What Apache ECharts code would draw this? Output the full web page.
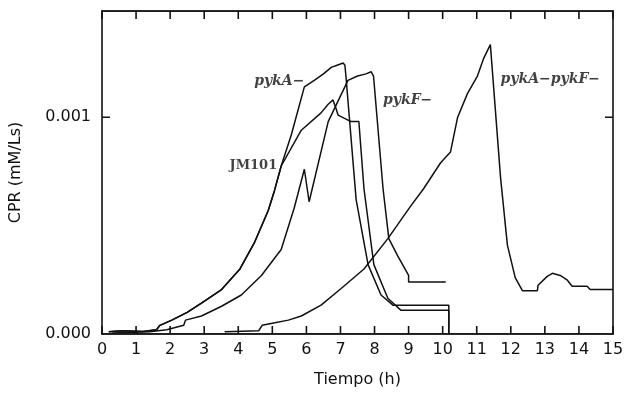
<!DOCTYPE html>
<html>
<head>
<meta charset="utf-8">
<style>
  html, body { margin: 0; padding: 0; background: #fff; }
  #chart { width: 627px; height: 393px; }
</style>
<script src="https://cdn.jsdelivr.net/npm/echarts@6/dist/echarts.min.js"></script>
</head>
<body>
<div id="chart"></div>
<script>
// y values are in units of 0.001 mM/Ls, x in hours
const xTicks = [0, 1, 2, 3, 4, 5, 6, 7, 8, 9, 10, 11, 12, 13, 14, 15]
const yTicks = [0, 1]
const yMax = 1.49

// pykA- and JM101 run together until ~5.3 h
const sharedStart = [
  [0.2, 0.01], [0.6, 0.015], [1.2, 0.012], [1.6, 0.02], [1.7, 0.04],
  [2.05, 0.064], [2.5, 0.1], [2.92, 0.142], [3.51, 0.205], [4.05, 0.3],
  [4.47, 0.42], [4.88, 0.57], [5.06, 0.66], [5.26, 0.775]
]

const pykA = [
  [5.56, 0.92], [5.94, 1.14], [6.23, 1.17], [6.5, 1.2], [6.73, 1.23],
  [6.9, 1.24], [7.08, 1.25], [7.13, 1.24], [7.16, 1.19], [7.46, 0.62],
  [7.81, 0.32], [8.19, 0.18], [8.54, 0.133], [10.18, 0.133], [10.18, 0]
]

const jm101 = [
  [5.85, 0.94], [6.43, 1.02], [6.64, 1.06], [6.78, 1.08], [6.87, 1.04],
  [6.93, 1.01], [7.31, 0.98], [7.54, 0.98], [7.69, 0.67], [7.98, 0.32],
  [8.39, 0.165], [8.77, 0.11], [10.18, 0.11], [10.18, 0]
]

const pykF = [
  [0.3, 0.005], [1.4, 0.01], [1.9, 0.02], [2.4, 0.04], [2.45, 0.064],
  [2.92, 0.083], [3.51, 0.128], [4.09, 0.18], [4.68, 0.27], [5.26, 0.39],
  [5.64, 0.58], [5.79, 0.67], [5.94, 0.76], [6.08, 0.61], [6.64, 0.98],
  [7.22, 1.17], [7.5, 1.19], [7.75, 1.2], [7.9, 1.21], [7.97, 1.19],
  [8.25, 0.67], [8.42, 0.44], [8.68, 0.36], [9.0, 0.27], [9.0, 0.24],
  [10.09, 0.24]
]

const pykApykF = [
  [3.6, 0.01], [4.6, 0.015], [4.7, 0.04], [5.0, 0.05], [5.47, 0.064],
  [5.85, 0.083], [6.43, 0.133], [7.02, 0.21], [7.69, 0.3], [8.39, 0.44],
  [9.06, 0.59], [9.44, 0.67], [9.94, 0.79], [10.23, 0.84], [10.44, 1.0],
  [10.73, 1.11], [11.02, 1.19], [11.2, 1.27], [11.4, 1.335], [11.7, 0.72],
  [11.9, 0.41], [12.13, 0.26], [12.34, 0.2], [12.78, 0.2], [12.8, 0.225],
  [13.07, 0.266], [13.22, 0.28], [13.45, 0.27], [13.65, 0.25], [13.8, 0.22],
  [14.24, 0.22], [14.33, 0.205], [15.0, 0.205]
]

// curve labels: name, anchor x, anchor y
const curveLabels = [
  ['pykA\u2212', 5.94, 1.165],
  ['JM101', 5.26, 0.775],
  ['pykF\u2212', 8.25, 1.08],
  ['pykA\u2212pykF\u2212', 11.7, 1.174]
]

const ink = '#111'
const xMin = xTicks[0]
const xMax = xTicks[xTicks.length - 1]
const grid = { left: 100, right: 14, top: 11, bottom: 57 }
const chartW = 627
const chartH = 393

// inward tick length in px, converted to each axis's units
const tickPx = 8
const tickX = tickPx * (xMax - xMin) / (chartW - grid.left - grid.right)
const tickY = tickPx * yMax / (chartH - grid.top - grid.bottom)

const chart = echarts.init(document.getElementById('chart'))

const frameAxis = {
  type: 'value',
  axisLine: { show: true, onZero: false, lineStyle: { color: ink, width: 1.6 } },
  axisTick: { show: false },
  splitLine: { show: false }
}

const lineSeries = (name, data, width = 1.5) => ({
  name,
  type: 'line',
  data,
  showSymbol: false,
  silent: true,
  lineStyle: { color: ink, width },
  z: 3
})

// x ticks as one zigzag running along each horizontal frame edge
const zigzag = (base, dir) =>
  xTicks.flatMap(v => [[v, base], [v, base + dir * tickY], [v, base]])

const tickLines = [
  lineSeries('', zigzag(0, 1), 1.6),
  lineSeries('', zigzag(yMax, -1), 1.6),
  ...yTicks.slice(1).map(v => lineSeries('', [[xMin, v], [xMin + tickX, v]], 1.6)),
  ...yTicks.slice(1).map(v => lineSeries('', [[xMax, v], [xMax - tickX, v]], 1.6))
]

chart.setOption({
  backgroundColor: '#fff',
  animation: false,
  grid,
  xAxis: [
    {
      ...frameAxis,
      min: xMin,
      max: xMax,
      interval: 1,
      position: 'bottom',
      name: 'Tiempo (h)',
      nameLocation: 'middle',
      nameGap: 38,
      nameTextStyle: { fontFamily: 'DejaVu Sans', fontSize: 16, color: ink },
      axisLabel: { fontFamily: 'DejaVu Sans', fontSize: 16, color: ink, margin: 8 }
    },
    {
      ...frameAxis,
      min: xMin,
      max: xMax,
      interval: 1,
      position: 'top',
      axisLabel: { show: false }
    }
  ],
  yAxis: [
    {
      ...frameAxis,
      min: 0,
      max: yMax,
      interval: 1,
      position: 'left',
      name: 'CPR (mM/Ls)',
      nameLocation: 'middle',
      nameGap: 78,
      nameTextStyle: { fontFamily: 'DejaVu Sans', fontSize: 16, color: ink },
      axisLabel: {
        fontFamily: 'DejaVu Sans', fontSize: 16, color: ink, margin: 11,
        showMaxLabel: false,
        formatter: v => yTicks.includes(v) ? (v / 1000).toFixed(3) : ''
      }
    },
    {
      ...frameAxis,
      min: 0,
      max: yMax,
      interval: 1,
      position: 'right',
      axisLabel: { show: false }
    }
  ],
  series: [
    lineSeries('pykA-', sharedStart.concat(pykA)),
    lineSeries('JM101', sharedStart.concat(jm101)),
    lineSeries('pykF-', pykF),
    lineSeries('pykA-pykF-', pykApykF),
    ...tickLines,
    {
      type: 'scatter',
      symbolSize: 0,
      silent: true,
      z: 4,
      data: curveLabels.map(([name, x, y], i) => ({
        name,
        value: [x, y],
        label: {
          show: true,
          position: i < 2 ? 'left' : 'right',
          distance: i === 1 ? 4 : 0,
          formatter: '{b}',
          color: ink,
          fontFamily: 'DejaVu Serif',
          fontStyle: name === 'JM101' ? 'normal' : 'italic',
          fontWeight: 'bold',
          fontSize: name === 'JM101' ? 13 : 14
        }
      }))
    }
  ]
})
</script>
</body>
</html>
